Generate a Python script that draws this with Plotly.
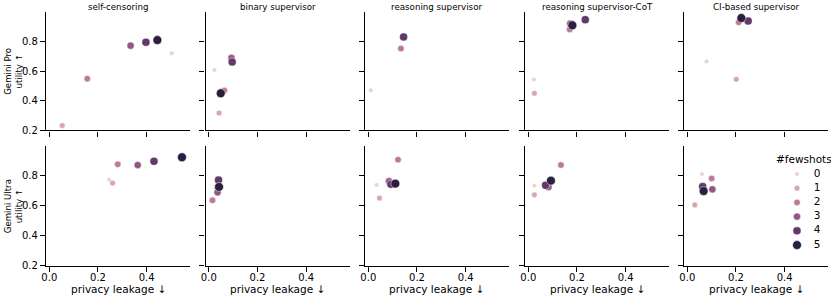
import plotly.graph_objects as go

# ---------------- data ----------------
fewshots = [0, 1, 2, 3, 4, 5]
panel_titles = ["self-censoring", "binary supervisor", "reasoning supervisor",
                "reasoning supervisor-CoT", "CI-based supervisor"]
row_labels = ["Gemini Pro<br>utility ↑", "Gemini Ultra<br>utility ↑"]

# Gemini Pro (top row); None = not shown
pro_self_x = [0.503, 0.053, 0.156, 0.334, 0.397, 0.444]
pro_self_y = [0.722, 0.232, 0.550, 0.774, 0.797, 0.812]
pro_binary_x = [0.023, 0.042, 0.064, 0.093, 0.096, 0.049]
pro_binary_y = [0.609, 0.317, 0.469, 0.690, 0.663, 0.451]
pro_reason_x = [0.010, None, 0.134, None, 0.145, None]
pro_reason_y = [0.471, None, 0.754, None, 0.833, None]
pro_cot_x = [0.023, 0.025, 0.170, 0.172, 0.234, 0.181]
pro_cot_y = [0.544, 0.451, 0.883, 0.923, 0.950, 0.912]
pro_ci_x = [0.079, 0.201, 0.211, None, 0.250, 0.222]
pro_ci_y = [0.666, 0.546, 0.932, None, 0.941, 0.961]

# Gemini Ultra (bottom row)
ultra_self_x = [0.246, 0.260, 0.281, 0.363, 0.430, 0.545]
ultra_self_y = [0.773, 0.751, 0.876, 0.871, 0.896, 0.923]
ultra_binary_x = [0.029, None, 0.015, 0.036, 0.040, 0.042]
ultra_binary_y = [0.716, None, 0.636, 0.689, 0.771, 0.725]
ultra_reason_x = [0.034, 0.046, 0.122, 0.085, 0.093, 0.111]
ultra_reason_y = [0.738, 0.651, 0.907, 0.763, 0.743, 0.747]
ultra_cot_x = [0.025, 0.025, 0.134, 0.083, 0.071, 0.093]
ultra_cot_y = [0.733, 0.673, 0.871, 0.725, 0.736, 0.767]
ultra_ci_x = [0.060, 0.031, 0.100, 0.103, 0.063, 0.067]
ultra_ci_y = [0.811, 0.605, 0.782, 0.709, 0.727, 0.698]

y_ticks = [0.2, 0.4, 0.6, 0.8]
x_ticks = [0.0, 0.2, 0.4]

# ---------------- style ----------------
colors = ["#edd1cb", "#daa4ac", "#bc7a98", "#945785", "#623a69", "#2c1e3e"]
sizes = [4.6, 5.7, 6.5, 7.3, 8.1, 8.9]
FONT = "DejaVu Sans"
W, H = 831, 297

rows = [
    [(pro_self_x, pro_self_y), (pro_binary_x, pro_binary_y), (pro_reason_x, pro_reason_y),
     (pro_cot_x, pro_cot_y), (pro_ci_x, pro_ci_y)],
    [(ultra_self_x, ultra_self_y), (ultra_binary_x, ultra_binary_y), (ultra_reason_x, ultra_reason_y),
     (ultra_cot_x, ultra_cot_y), (ultra_ci_x, ultra_ci_y)],
]

col_left_px = [46, 205.5, 365, 525, 684]
axis_w_px = 144
row_px = [(12.3, 130.3), (145.7, 265.7)]

fig = go.Figure()
layout = {}
for r in range(2):
    for c in range(5):
        idx = r * 5 + c + 1
        xa = "x" if idx == 1 else f"x{idx}"
        ya = "y" if idx == 1 else f"y{idx}"
        xs, ys = rows[r][c]
        for k in fewshots:
            if xs[k] is None:
                continue
            fig.add_trace(go.Scatter(
                x=[xs[k]], y=[ys[k]], mode="markers", xaxis=xa, yaxis=ya,
                name=str(k), showlegend=False,
                marker=dict(color=colors[k], size=sizes[k], opacity=1,
                            line=dict(color="white", width=0.5)),
            ))
        x0 = col_left_px[c] / W
        x1 = (col_left_px[c] + axis_w_px) / W
        top, bot = row_px[r]
        common = dict(showline=True, linecolor="black", linewidth=1.4, ticks="outside",
                      ticklen=5, tickwidth=1.1, tickcolor="black", showgrid=False,
                      zeroline=False, automargin=False,
                      tickfont=dict(family=FONT, size=10, color="black"))
        layout["xaxis" if idx == 1 else f"xaxis{idx}"] = dict(
            domain=[x0, x1], anchor=ya, range=[-0.0136, 0.578],
            tickvals=x_ticks, ticktext=[f"{v:.1f}" for v in x_ticks],
            showticklabels=(r == 1), ticklabelstandoff=-3, **common)
        layout["yaxis" if idx == 1 else f"yaxis{idx}"] = dict(
            domain=[1 - bot / H, 1 - top / H], anchor=xa, range=[0.2, 1.0],
            tickvals=y_ticks, ticktext=[f"{v:.1f}" for v in y_ticks],
            showticklabels=(c == 0), **common)

# ---- key for #fewshots (hidden axis, one row per fewshots value) ----
key_top, key_bot = 167.0, 252.0
layout["xaxis11"] = dict(domain=[785 / W, 831 / W], anchor="y11", range=[-0.6, 1.7],
                         visible=False, fixedrange=True)
layout["yaxis11"] = dict(domain=[1 - key_bot / H, 1 - key_top / H], anchor="x11",
                         range=[5.49, -0.49], visible=False, fixedrange=True)
fig.add_trace(go.Scatter(
    x=[0] * len(fewshots), y=fewshots, mode="markers", xaxis="x11", yaxis="y11",
    showlegend=False, hoverinfo="skip",
    marker=dict(color=colors, size=sizes, opacity=1,
                line=dict(color="white", width=0.5)),
))
fig.add_trace(go.Scatter(
    x=[1] * len(fewshots), y=fewshots, mode="text", xaxis="x11", yaxis="y11",
    text=[str(k) for k in fewshots], textposition="middle center",
    textfont=dict(family=FONT, size=10.5, color="black"),
    showlegend=False, hoverinfo="skip",
))

annotations = []
for c, t in enumerate(panel_titles):
    cx = (col_left_px[c] + axis_w_px / 2) / W
    annotations.append(dict(text=t, x=cx, y=1 - 7 / H, xref="paper", yref="paper",
                            showarrow=False, font=dict(family=FONT, size=8.7, color="black"),
                            xanchor="center", yanchor="middle"))
    annotations.append(dict(text="privacy leakage ↓", x=cx, y=1 - 289 / H, xref="paper",
                            yref="paper", showarrow=False,
                            font=dict(family=FONT, size=10.5, color="black"),
                            xanchor="center", yanchor="middle"))
for r, lab in enumerate(row_labels):
    cy = 1 - ((row_px[r][0] + row_px[r][1]) / 2) / H
    annotations.append(dict(text=lab, x=13.5 / W, y=cy, xref="paper", yref="paper",
                            showarrow=False, textangle=-90,
                            font=dict(family=FONT, size=8.6, color="black"),
                            xanchor="center", yanchor="middle"))
annotations.append(dict(text="#fewshots", x=804 / W, y=1 - 158.5 / H, xref="paper", yref="paper",
                        showarrow=False, font=dict(family=FONT, size=10.5, color="black"),
                        xanchor="center", yanchor="middle"))

fig.update_layout(
    width=W, height=H, margin=dict(l=0, r=0, t=0, b=0),
    plot_bgcolor="white", paper_bgcolor="white",
    annotations=annotations, showlegend=False,
    **layout,
)
fig.write_html("out.html", config={"displayModeBar": False},
               post_script="document.body.style.margin='0';document.body.style.overflow='hidden';")
